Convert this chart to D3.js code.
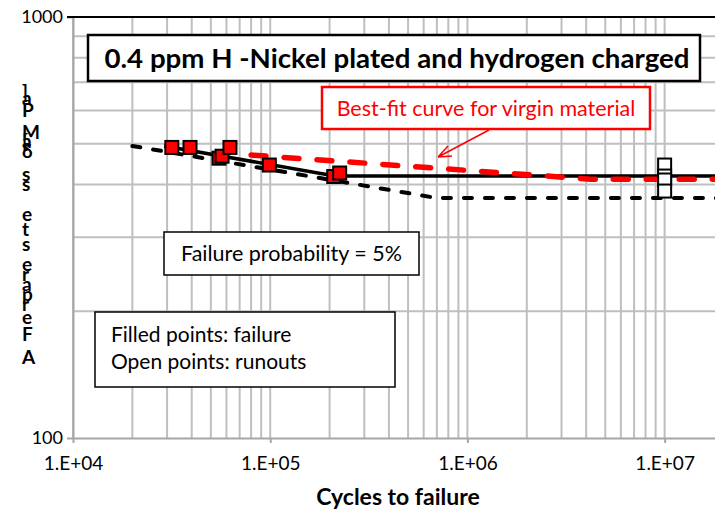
<!DOCTYPE html>
<html>
<head>
<meta charset="utf-8">
<script src="https://cdn.jsdelivr.net/npm/d3@7"></script>
<style>
  body { margin: 0; background: #fff; }
  text { font-family: Lato, "Open Sans", sans-serif; }
</style>
</head>
<body>
<div id="chart"></div>
<script>
// failures (filled) and runouts (open): [cycles, stress MPa]
const failures = [
  [3.17e4, 490], [3.92e4, 490], [5.5e4, 462], [5.7e4, 467],
  [6.25e4, 490], [9.9e4, 445], [2.1e5, 418], [2.25e5, 426]
];
const runouts = [[1e7, 445], [1e7, 419], [1e7, 410], [1e7, 386]];

// fitted curves
const medianFit = [[2.9e4, 494], [2.13e5, 419], [2e7, 419]];
const fit5pct = [[2e4, 494], [7e5, 371.5], [2e7, 371.5]];
const virginFit = [[8e4, 470], [4.2e6, 412], [2e7, 412]];

const xTicks = [1e4, 1e5, 1e6, 1e7];
const yTicks = [100, 1000];

// stacked y-axis label glyphs, top to bottom
const yLabelGlyphs = ["]", "a", "P", "M", "[", "a", "δ", "s", "s", "e", "t", "s", "e", "r", "a", "p", "r", "e", "F", "A"];
const yLabelPos = [99, 105, 117, 139, 148, 148, 158, 181, 191, 221, 236, 251, 271, 281, 291, 301, 311, 324, 341, 364];

const width = 715, height = 515;
const plotLeft = 73, plotTop = 17, plotBottom = 438;

const svg = d3.select("#chart")
  .append("svg")
  .attr("width", width)
  .attr("height", height);

svg.append("rect").attr("width", width).attr("height", height).attr("fill", "#fff");

const x = d3.scaleLog().domain([1e4, 2e7]).range([plotLeft, 724]);
const y = d3.scaleLog().domain([100, 1000]).range([plotBottom, plotTop]);

// grid
svg.append("g")
  .selectAll("line")
  .data(x.ticks())
  .enter()
  .append("line")
  .attr("x1", d => x(d)).attr("x2", d => x(d))
  .attr("y1", plotTop).attr("y2", plotBottom)
  .attr("stroke", "#bfbfbf")
  .attr("stroke-width", 2);

svg.append("g")
  .selectAll("line")
  .data(y.ticks().filter(d => d > 100 && d < 1000))
  .enter()
  .append("line")
  .attr("x1", plotLeft).attr("x2", width)
  .attr("y1", d => y(d)).attr("y2", d => y(d))
  .attr("stroke", "#bfbfbf")
  .attr("stroke-width", 2);

// axes
const xAxis = d3.axisBottom(x)
  .tickValues(xTicks)
  .tickFormat(d => "1.E+0" + Math.round(Math.log10(d)))
  .tickSize(5)
  .tickPadding(14)
  .tickSizeOuter(0);

const gx = svg.append("g")
  .attr("transform", `translate(0,${plotBottom})`)
  .call(xAxis);
gx.select(".domain").attr("stroke", "#a6a6a6").attr("stroke-width", 2);
gx.selectAll(".tick line").attr("stroke", "#a6a6a6").attr("stroke-width", 2);
gx.selectAll(".tick text").style("font-size", "19px").attr("fill", "#000");

const yAxis = d3.axisLeft(y)
  .tickValues(yTicks)
  .tickFormat(d3.format("d"))
  .tickSize(6)
  .tickPadding(4)
  .tickSizeOuter(0);

const gy = svg.append("g")
  .attr("transform", `translate(${plotLeft},0)`)
  .call(yAxis);
gy.select(".domain").attr("stroke", "#a6a6a6").attr("stroke-width", 2);
gy.selectAll(".tick line").attr("stroke", "#a6a6a6").attr("stroke-width", 2);
gy.selectAll(".tick text").style("font-size", "18px").attr("fill", "#000");

// top border
svg.append("line")
  .attr("x1", plotLeft - 6).attr("x2", width)
  .attr("y1", plotTop).attr("y2", plotTop)
  .attr("stroke", "#000")
  .attr("stroke-width", 2);

const line = d3.line().x(d => x(d[0])).y(d => y(d[1]));

svg.append("path")
  .datum(medianFit)
  .attr("d", line)
  .attr("fill", "none")
  .attr("stroke", "#000")
  .attr("stroke-width", 3.5);

svg.append("path")
  .datum(fit5pct)
  .attr("d", line)
  .attr("fill", "none")
  .attr("stroke", "#000")
  .attr("stroke-width", 4)
  .attr("stroke-linecap", "round")
  .attr("stroke-dasharray", "8,13");

svg.append("path")
  .datum(virginFit)
  .attr("d", line)
  .attr("fill", "none")
  .attr("stroke", "#ff0000")
  .attr("stroke-width", 5.5)
  .attr("stroke-linecap", "round")
  .attr("stroke-dasharray", "15,18");

// points
const size = 13;
svg.selectAll(".fail")
  .data(failures)
  .enter()
  .append("rect")
  .attr("class", "fail")
  .attr("x", d => x(d[0]) - size / 2)
  .attr("y", d => y(d[1]) - size / 2)
  .attr("width", size).attr("height", size)
  .attr("fill", "#ff0000")
  .attr("stroke", "#000")
  .attr("stroke-width", 2);

svg.selectAll(".runout")
  .data(runouts)
  .enter()
  .append("rect")
  .attr("class", "runout")
  .attr("x", d => x(d[0]) - size / 2)
  .attr("y", d => y(d[1]) - size / 2)
  .attr("width", size).attr("height", size)
  .attr("fill", "#fff")
  .attr("stroke", "#000")
  .attr("stroke-width", 2);

// title box
svg.append("rect")
  .attr("x", 88).attr("y", 35).attr("width", 612).attr("height", 46)
  .attr("fill", "#fff").attr("stroke", "#000").attr("stroke-width", 2.5);
svg.append("text")
  .attr("x", 397).attr("y", 68)
  .attr("text-anchor", "middle")
  .attr("textLength", 585)
  .attr("lengthAdjust", "spacingAndGlyphs")
  .style("font-size", "27px").style("font-weight", "bold")
  .text("0.4 ppm H -Nickel plated and hydrogen charged");

// virgin material annotation
svg.append("rect")
  .attr("x", 322).attr("y", 87).attr("width", 328).attr("height", 42)
  .attr("fill", "#fff").attr("stroke", "#ff0000").attr("stroke-width", 2.5);
svg.append("text")
  .attr("x", 486).attr("y", 116)
  .attr("text-anchor", "middle")
  .attr("fill", "#ff0000")
  .style("font-size", "21.5px")
  .text("Best-fit curve for  virgin material");

svg.append("path")
  .attr("d", "M489,130 L438,157 M438,157 L448,146 M438,157 L452,156")
  .attr("fill", "none")
  .attr("stroke", "#ff0000")
  .attr("stroke-width", 1.5);

// failure probability box
svg.append("rect")
  .attr("x", 164).attr("y", 232).attr("width", 255).attr("height", 43)
  .attr("fill", "#fff").attr("stroke", "#000").attr("stroke-width", 1.5);
svg.append("text")
  .attr("x", 181).attr("y", 261)
  .style("font-size", "21.5px")
  .text("Failure probability = 5%");

// legend box
svg.append("rect")
  .attr("x", 95).attr("y", 312).attr("width", 300).attr("height", 75)
  .attr("fill", "#fff").attr("stroke", "#000").attr("stroke-width", 1.5);
svg.append("text")
  .attr("x", 111).attr("y", 342)
  .style("font-size", "21px")
  .text("Filled points: failure");
svg.append("text")
  .attr("x", 111).attr("y", 369)
  .style("font-size", "21px")
  .text("Open points: runouts");

// axis titles
svg.append("text")
  .attr("x", 398).attr("y", 505)
  .attr("text-anchor", "middle")
  .style("font-size", "23px").style("font-weight", "bold")
  .text("Cycles to failure");

svg.append("g")
  .selectAll("text")
  .data(yLabelGlyphs)
  .enter()
  .append("text")
  .attr("x", 22)
  .attr("y", (d, i) => yLabelPos[i])
  .style("font-size", "19px")
  .style("font-weight", "bold")
  .text(d => d);
</script>
</body>
</html>
